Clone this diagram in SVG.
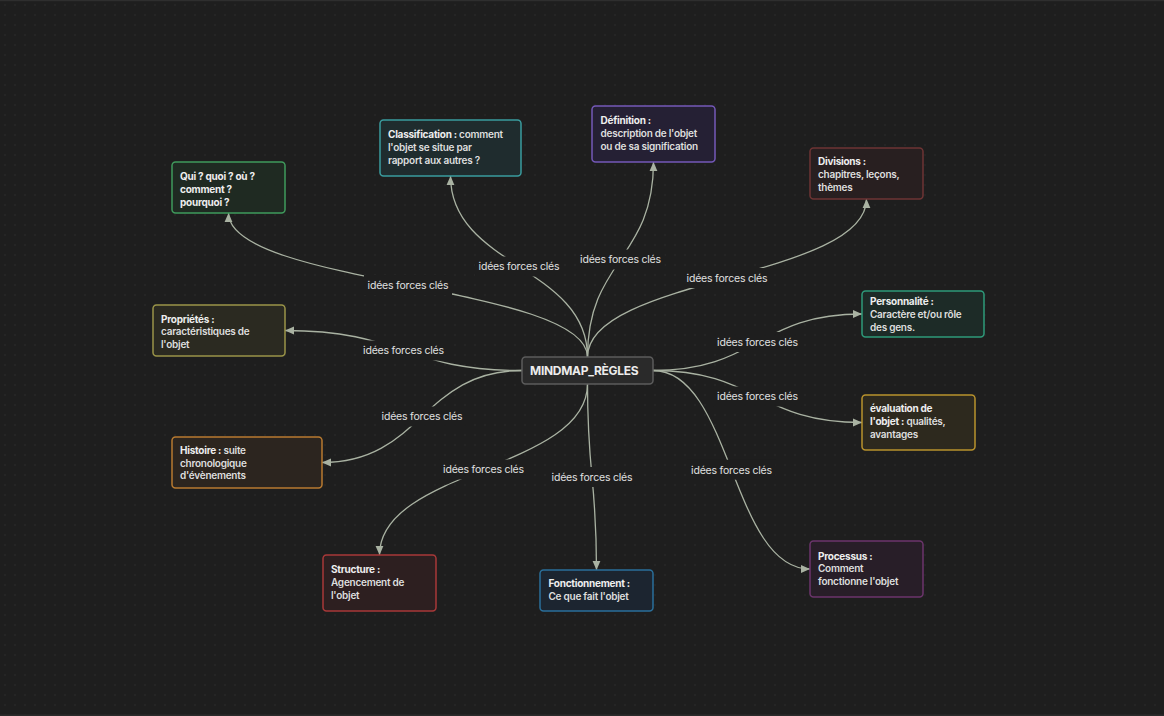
<svg xmlns="http://www.w3.org/2000/svg" width="1164" height="716" viewBox="0 0 1164 716">
<defs>
<pattern id="dots" x="0" y="0" width="10" height="10" patternUnits="userSpaceOnUse">
<circle cx="5" cy="5" r="0.8" fill="#2c2c2c"/>
</pattern>
<marker id="arr" markerUnits="userSpaceOnUse" markerWidth="10" markerHeight="10" viewBox="0 0 10 10" refX="9" refY="4.5" orient="auto">
<path d="M0,0.6 L9,4.5 L0,8.4 z" fill="#a9b2a2"/>
</marker>
<style>
.bg{fill:#1e1e1e}
.node rect{stroke-width:1.5}
.node text{font-family:Inter,"Liberation Sans",sans-serif;font-size:10px;font-weight:600;fill:#dedede;letter-spacing:-0.25px}
.node .t{font-weight:700;fill:#eeeeee}
.edge{fill:none;stroke:#a9b2a2;stroke-width:1.3;marker-end:url(#arr)}
.lbg{fill:#1e1e1e}
.lbl{font-family:Inter,"Liberation Sans",sans-serif;font-size:10.5px;fill:#e0e0e0;text-anchor:middle;letter-spacing:-0.2px}
.center rect{fill:#2a2a2a;stroke:#5c5c5c;stroke-width:1.5}
.center text{font-family:Inter,"Liberation Sans",sans-serif;font-size:12px;font-weight:700;fill:#ececec;letter-spacing:-0.3px}
</style>
</defs>
<rect class="bg" x="0" y="0" width="1164" height="716"/>
<rect x="0" y="0" width="1164" height="716" fill="url(#dots)"/>
<rect x="0" y="0" width="1164" height="1.2" fill="#2e2e2e"/>
<rect x="0" y="714.5" width="1164" height="1.5" fill="#2a2a2a"/>

<g id="connectors">
<path class="edge" d="M587.5,357 C587.5,285 228.5,285 228.5,213"/>
<path class="edge" d="M587.5,357 C587.5,266.5 450.5,266.5 450.5,176"/>
<path class="edge" d="M587.5,357 C587.5,259.5 653.5,259.5 653.5,162"/>
<path class="edge" d="M587.5,357 C587.5,278 866.5,278 866.5,199"/>
<path class="edge" d="M522,370.5 C403.5,370.5 403.5,330.5 285,330.5"/>
<path class="edge" d="M653,370.5 C757.5,370.5 757.5,314 862,314"/>
<path class="edge" d="M653,370.5 C757.5,370.5 757.5,422.5 862,422.5"/>
<path class="edge" d="M522,370.5 C422,370.5 422,462.5 322,462.5"/>
<path class="edge" d="M587.5,384 C587.5,469.5 379.5,469.5 379.5,555"/>
<path class="edge" d="M587.5,384 C587.5,477 596.5,477 596.5,570"/>
<path class="edge" d="M653,370.5 C731.5,370.5 731.5,569 810,569"/>
<g id="labels">
<rect class="lbg" x="364" y="275" width="88" height="20"/><text class="lbl" x="408" y="288.8">idées forces clés</text>
<rect class="lbg" x="475" y="256.5" width="88" height="20"/><text class="lbl" x="519" y="270.3">idées forces clés</text>
<rect class="lbg" x="576.5" y="249.5" width="88" height="20"/><text class="lbl" x="620.5" y="263.3">idées forces clés</text>
<rect class="lbg" x="683" y="268" width="88" height="20"/><text class="lbl" x="727" y="281.8">idées forces clés</text>
<rect class="lbg" x="359.5" y="340.5" width="88" height="20"/><text class="lbl" x="403.5" y="354.3">idées forces clés</text>
<rect class="lbg" x="713.5" y="332" width="88" height="20"/><text class="lbl" x="757.5" y="345.8">idées forces clés</text>
<rect class="lbg" x="713.5" y="386.5" width="88" height="20"/><text class="lbl" x="757.5" y="400.3">idées forces clés</text>
<rect class="lbg" x="378" y="406.5" width="88" height="20"/><text class="lbl" x="422" y="420.3">idées forces clés</text>
<rect class="lbg" x="439.5" y="459.5" width="88" height="20"/><text class="lbl" x="483.5" y="473.3">idées forces clés</text>
<rect class="lbg" x="548" y="467" width="88" height="20"/><text class="lbl" x="592" y="480.8">idées forces clés</text>
<rect class="lbg" x="687.5" y="459.7" width="88" height="20"/><text class="lbl" x="731.5" y="473.5">idées forces clés</text>
</g>
</g>

<g id="center" class="center">
<rect x="522" y="357" width="131" height="27" rx="3.5"/>
<text x="530" y="374.8">MINDMAP_RÈGLES</text>
</g>

<g id="n-qui" class="node">
<rect x="172" y="162" width="113" height="51" rx="3.5" fill="#1f2a22" stroke="#3f9a5c"/>
<text x="180" y="179.5"><tspan class="t">Qui ? quoi ? où ?</tspan><tspan class="t" x="180" dy="13">comment ?</tspan><tspan class="t" x="180" dy="13">pourquoi ?</tspan></text>
</g>
<g id="n-classification" class="node">
<rect x="380" y="120" width="141" height="56" rx="3.5" fill="#1f2c2e" stroke="#3a9c9e"/>
<text x="388" y="137.5"><tspan class="t">Classification :</tspan> comment<tspan x="388" dy="13">l'objet se situe par</tspan><tspan x="388" dy="13">rapport aux autres ?</tspan></text>
</g>
<g id="n-definition" class="node">
<rect x="592" y="106" width="123" height="56" rx="3.5" fill="#252034" stroke="#7458b8"/>
<text x="600.5" y="123.5"><tspan class="t">Définition :</tspan><tspan x="600.5" dy="13">description de l'objet</tspan><tspan x="600.5" dy="13">ou de sa signification</tspan></text>
</g>
<g id="n-divisions" class="node">
<rect x="810" y="148" width="113" height="51" rx="3.5" fill="#281f20" stroke="#6e3434"/>
<text x="818" y="165.3"><tspan class="t">Divisions :</tspan><tspan x="818" dy="13">chapitres, leçons,</tspan><tspan x="818" dy="13">thèmes</tspan></text>
</g>
<g id="n-proprietes" class="node">
<rect x="153" y="305" width="132" height="51" rx="3.5" fill="#2b2a21" stroke="#9a9448"/>
<text x="161" y="322.5"><tspan class="t">Propriétés :</tspan><tspan x="161" dy="12.5">caractéristiques de</tspan><tspan x="161" dy="12.5">l'objet</tspan></text>
</g>
<g id="n-personnalite" class="node">
<rect x="862" y="291" width="122" height="46" rx="3.5" fill="#1d2b27" stroke="#2e9a7a"/>
<text x="870" y="305.3"><tspan class="t">Personnalité :</tspan><tspan x="870" dy="13">Caractère et/ou rôle</tspan><tspan x="870" dy="12.5">des gens.</tspan></text>
</g>
<g id="n-evaluation" class="node">
<rect x="862" y="395" width="113" height="55" rx="3.5" fill="#2d291e" stroke="#b8922c"/>
<text x="870" y="412.3"><tspan class="t">évaluation de</tspan><tspan class="t" x="870" dy="13">l'objet :</tspan> qualités,<tspan x="870" dy="12.7">avantages</tspan></text>
</g>
<g id="n-histoire" class="node">
<rect x="172" y="437" width="150" height="51" rx="3.5" fill="#2c251f" stroke="#b87a30"/>
<text x="180" y="453.8"><tspan class="t">Histoire :</tspan> suite<tspan x="180" dy="12.7">chronologique</tspan><tspan x="180" dy="12.5">d'évènements</tspan></text>
</g>
<g id="n-structure" class="node">
<rect x="323" y="555" width="113" height="56" rx="3.5" fill="#2d1f20" stroke="#a83838"/>
<text x="331" y="572.8"><tspan class="t">Structure :</tspan><tspan x="331" dy="13.3">Agencement de</tspan><tspan x="331" dy="12.7">l'objet</tspan></text>
</g>
<g id="n-fonctionnement" class="node">
<rect x="540" y="570" width="113" height="41" rx="3.5" fill="#1c2530" stroke="#2a6f9a"/>
<text x="548.5" y="587.2"><tspan class="t">Fonctionnement :</tspan><tspan x="548.5" dy="13">Ce que fait l'objet</tspan></text>
</g>
<g id="n-processus" class="node">
<rect x="810" y="541" width="113" height="56" rx="3.5" fill="#281e28" stroke="#6c356c"/>
<text x="818" y="559.5"><tspan class="t">Processus :</tspan><tspan x="818" dy="12.7">Comment</tspan><tspan x="818" dy="12.6">fonctionne l'objet</tspan></text>
</g>
</svg>
